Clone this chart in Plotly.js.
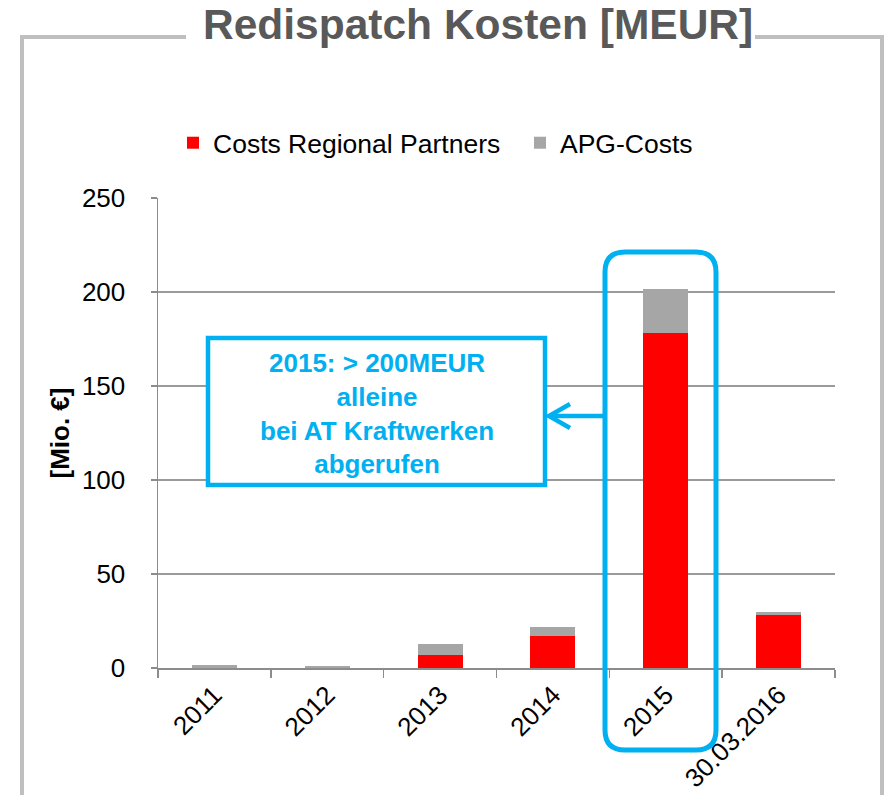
<!DOCTYPE html>
<html>
<head>
<meta charset="utf-8">
<script src="https://cdn.plot.ly/plotly-3.0.1.min.js"></script>
<style>html,body{margin:0;padding:0;background:#fff;}#chart{width:887px;height:795px;}</style>
</head>
<body>
<div id="chart"></div>
<script>
// ---- data ----
const categories = ['2011', '2012', '2013', '2014', '2015', '30.03.2016'];
const regionalPartners = [0, 0, 7, 17, 178, 28];
const apgCosts = [1.8, 1.0, 5.7, 4.8, 23.7, 1.6];
const seriesNames = ['Costs Regional Partners', 'APG-Costs'];
const yTickValues = [0, 50, 100, 150, 200, 250];

// ---- layout helpers (pixel -> paper) ----
const W = 887, H = 795;
const M = {l: 158, r: 52, t: 198, b: 127};
const PW = W - M.l - M.r, PH = H - M.t - M.b;
const px = x => (x - M.l) / PW;
const py = y => (H - M.b - y) / PH;

const cyan = '#00B0F0';
const frame = '#BFBFBF';

function roundRect(x0, y0, x1, y1, r) {
  const P = (x, y) => px(x) + ',' + py(y);
  return 'M' + P(x0 + r, y0) + ' L' + P(x1 - r, y0) + ' Q' + P(x1, y0) + ' ' + P(x1, y0 + r) +
    ' L' + P(x1, y1 - r) + ' Q' + P(x1, y1) + ' ' + P(x1 - r, y1) +
    ' L' + P(x0 + r, y1) + ' Q' + P(x0, y1) + ' ' + P(x0, y1 - r) +
    ' L' + P(x0, y0 + r) + ' Q' + P(x0, y0) + ' ' + P(x0 + r, y0) + ' Z';
}

const traces = [
  {type: 'bar', name: seriesNames[0], x: categories, y: regionalPartners,
   marker: {color: '#FF0000'}, legend: 'legend'},
  {type: 'bar', name: seriesNames[1], x: categories, y: apgCosts,
   marker: {color: '#A6A6A6'}, legend: 'legend2'}
];

const font = 'Arial, "Liberation Sans", Helvetica, sans-serif';
const legendBase = {orientation: 'h', xanchor: 'left', yanchor: 'top',
  font: {size: 26.5, color: '#000'}, itemclick: false, bgcolor: 'rgba(0,0,0,0)'};

const layout = {
  width: W, height: H,
  margin: M,
  paper_bgcolor: '#fff', plot_bgcolor: '#fff',
  barmode: 'stack', bargap: 0.6,
  font: {family: font, size: 26, color: '#000'},
  showlegend: true,
  legend: Object.assign({}, legendBase, {x: px(173), y: py(119)}),
  legend2: Object.assign({}, legendBase, {x: px(520), y: py(119)}),
  xaxis: {type: 'category', showline: true, linecolor: '#8C8C8C', linewidth: 1.5,
    ticks: 'outside', tickson: 'boundaries', ticklen: 8, tickcolor: '#8C8C8C', tickwidth: 1.5,
    tickangle: -45, tickfont: {size: 26, color: '#000'}, automargin: false, showgrid: false},
  yaxis: {range: [0, 250], tickvals: yTickValues, showline: true, linecolor: '#8C8C8C', linewidth: 1.5,
    ticks: 'outside', ticklen: 6, tickcolor: '#8C8C8C', tickwidth: 1.5,
    showgrid: true, gridcolor: '#9A9A9A', gridwidth: 1.5, zeroline: false,
    tickfont: {size: 26, color: '#000'}, ticklabelstandoff: 20, automargin: false,
    title: {text: '<b>[Mio. €]</b>', font: {size: 26, color: '#000'}, standoff: 5}},
  shapes: [
    // outer frame
    {type: 'line', xref: 'paper', yref: 'paper', x0: px(22), x1: px(22), y0: py(37), y1: py(800), line: {color: frame, width: 4}},
    {type: 'line', xref: 'paper', yref: 'paper', x0: px(882), x1: px(882), y0: py(37), y1: py(800), line: {color: frame, width: 4}},
    {type: 'line', xref: 'paper', yref: 'paper', x0: px(20), x1: px(186), y0: py(37), y1: py(37), line: {color: frame, width: 4}},
    {type: 'line', xref: 'paper', yref: 'paper', x0: px(755), x1: px(884), y0: py(37), y1: py(37), line: {color: frame, width: 4}},
    // highlight around 2015
    {type: 'path', xref: 'paper', yref: 'paper', path: roundRect(605, 252, 716, 750, 20), line: {color: cyan, width: 5}},
    // connector + arrowhead
    {type: 'line', xref: 'paper', yref: 'paper', x0: px(549), x1: px(605), y0: py(416), y1: py(416), line: {color: cyan, width: 4.5}},
    {type: 'path', xref: 'paper', yref: 'paper',
     path: 'M' + px(570) + ',' + py(404) + ' L' + px(549) + ',' + py(416) + ' L' + px(570) + ',' + py(428),
     line: {color: cyan, width: 4.5}},
    // text box
    {type: 'rect', xref: 'paper', yref: 'paper', x0: px(208), x1: px(545), y0: py(338), y1: py(485),
     line: {color: cyan, width: 4.5}, fillcolor: '#fff', layer: 'above'}
  ],
  annotations: [
    {xref: 'paper', yref: 'paper', x: px(478), y: py(24), xanchor: 'center', yanchor: 'middle',
     text: '<b>Redispatch Kosten [MEUR]</b>', showarrow: false,
     font: {size: 42.5, color: '#595959', family: font}},
    {xref: 'paper', yref: 'paper', x: px(376.5), y: py(413), xanchor: 'center', yanchor: 'middle',
     text: '<b>2015: &gt; 200MEUR<br>alleine<br>bei AT Kraftwerken<br>abgerufen</b>', showarrow: false,
     font: {size: 26, color: cyan, family: font}}
  ]
};

Plotly.newPlot('chart', traces, layout, {displayModeBar: false, staticPlot: true});
</script>
</body>
</html>
